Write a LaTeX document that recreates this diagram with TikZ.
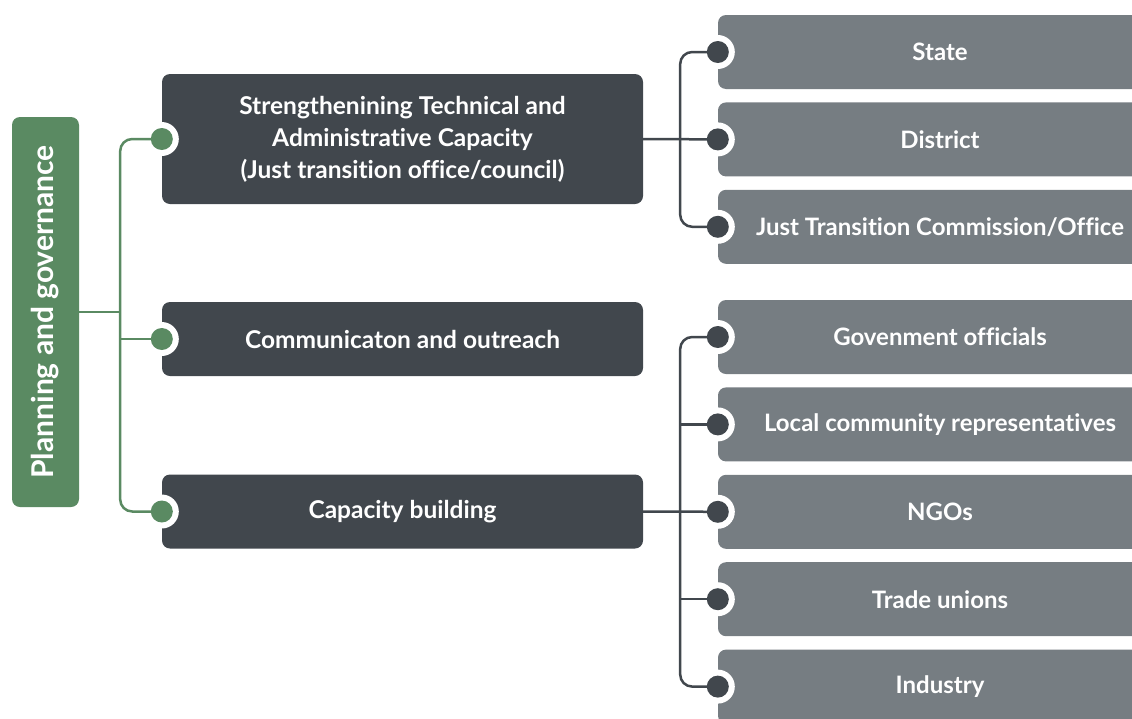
\documentclass[tikz,border=0pt]{standalone}
\usepackage{fontspec}
\setmainfont[Ligatures=NoCommon]{Lato}
\usetikzlibrary{positioning}
\definecolor{leafgreen}{HTML}{5A8A62}
\definecolor{slatedark}{HTML}{41474D}
\definecolor{slategray}{HTML}{767D82}

\begin{document}
\begin{tikzpicture}[x=1pt, y=-1pt, node distance=13pt,
    planbar/.style={fill=leafgreen, rounded corners=8pt, rotate=90, minimum width=390pt, minimum height=67pt, text=white, font=\fontsize{30}{36}\selectfont\bfseries},
    mainbox/.style={fill=slatedark, rounded corners=8pt, minimum width=481pt, text=white, align=center, font=\fontsize{24.5}{32}\selectfont\bfseries},
    subbox/.style={fill=slategray, rounded corners=8pt, minimum width=444pt, minimum height=74pt, text=white, font=\fontsize{24}{30}\selectfont\bfseries},
    greenline/.style={draw=leafgreen, line width=2.5pt, rounded corners=12pt},
    grayline/.style={draw=slatedark, line width=2.5pt, rounded corners=12pt}]
    \path[use as bounding box, clip] (0,0) rectangle (1132,718);

    \node[planbar] (plan) at (45.5,312) {Planning and governance};
    \node[mainbox, minimum height=130pt] (tech) at (402.5,139) {Strengthenining Technical and\\ Administrative Capacity\\ (Just transition office/council)};
    \node[mainbox, minimum height=74pt] (comm) at (402.5,339) {Communicaton and outreach};
    \node[mainbox, minimum height=74pt] (capb) at (402.5,511.5) {Capacity building};

    \node[subbox] (state) at (940,52) {State};
    \node[subbox] (district) [below=of state] {District};
    \node[subbox] (jtc) [below=of district] {Just Transition Commission/Office};

    \node[subbox] (gov) at (940,337) {Govenment officials};
    \node[subbox] (local) [below=of gov] {Local community representatives};
    \node[subbox] (ngo) [below=of local] {NGOs};
    \node[subbox] (trade) [below=of ngo] {Trade unions};
    \node[subbox] (industry) [below=of trade] {Industry};

    \foreach \n in {tech, comm, capb, state, district, jtc, gov, local, ngo, trade, industry}
        \fill[white] (\n.west) circle (17pt);

    \coordinate (gfork) at ([xshift=41pt]plan.south);
    \coordinate (tfork) at ([xshift=37pt]tech.east);
    \coordinate (cfork) at ([xshift=37pt]capb.east);

    % green tree
    \draw[greenline] (plan.south) -- (gfork);
    \draw[greenline] (tech.west) -| (gfork) |- (capb.west);
    \draw[greenline] (gfork |- comm.west) -- (comm.west);

    % upper gray tree
    \draw[grayline] (tech.east) -- (district.west);
    \draw[grayline] (state.west) -| (tfork) |- (jtc.west);

    % lower gray tree
    \draw[grayline] (capb.east) -- (ngo.west);
    \draw[grayline] (gov.west) -| (cfork) |- (industry.west);
    \foreach \n in {local, trade}
        \draw[grayline] (cfork |- \n.west) -- (\n.west);

    \foreach \n in {tech, comm, capb}
        \fill[leafgreen] (\n.west) circle (11pt);
    \foreach \n in {state, district, jtc, gov, local, ngo, trade, industry}
        \fill[slatedark] (\n.west) circle (11pt);
\end{tikzpicture}
\end{document}
